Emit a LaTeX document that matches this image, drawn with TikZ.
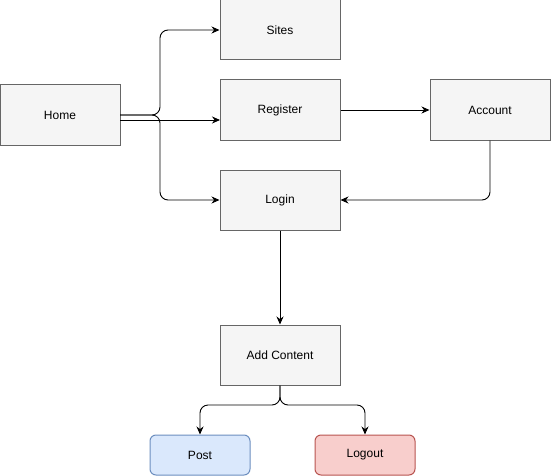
\documentclass[tikz,border=0pt]{standalone}
\usepackage{fontspec}
\setmainfont{Liberation Sans}
\usetikzlibrary{arrows.meta}
\definecolor{boxfill}{HTML}{F5F5F5}
\definecolor{boxline}{HTML}{666666}
\definecolor{bluefill}{HTML}{DAE8FC}
\definecolor{blueline}{HTML}{6C8EBF}
\definecolor{redfill}{HTML}{F8CECC}
\definecolor{redline}{HTML}{B85450}
\begin{document}
\begin{tikzpicture}[x=1pt,y=-1pt,
  box/.style={draw=boxline,fill=boxfill,line width=1pt,minimum width=120pt,minimum height=60pt,inner sep=0pt,font=\fontsize{12}{14}\selectfont},
  sbox/.style={line width=1pt,minimum width=100pt,minimum height=40pt,inner sep=0pt,rounded corners=6pt,font=\fontsize{12}{14}\selectfont},
  conn/.style={line width=0.9pt,rounded corners=8pt,-{Stealth[length=8pt,width=7pt]}}]
\useasboundingbox (0,0) rectangle (551,476);
\node[box] (home) at (60,115) {Home};
\node[box] (sites) at (280,30) {Sites};
\node[box] (reg) at (280,110) {Register};
\node[box] (acc) at (490,110) {Account};
\node[box] (login) at (280,200) {Login};
\node[box] (add) at (280,355) {Add Content};
\node[sbox,draw=blueline,fill=bluefill] (post) at (200,455) {Post};
\node[sbox,draw=redline,fill=redfill] (logout) at (365,455) {Logout};
\coordinate (hA) at (120,115);
\coordinate (hB) at (120,120);
\coordinate (regIn) at (220,120);
\draw[conn] (hA) -- (160,115) -- (160,30) -- (sites.west);
\draw[conn] (hA) -- (160,115) -- (160,200) -- (login.west);
\draw[conn] (hB) -- (regIn);
\draw[conn] (reg.east) -- (acc.west);
\draw[conn] (acc.south) -- (490,200) -- (login.east);
\draw[conn] (login.south) -- (add.north);
\draw[conn] (add.south) -- (280,405) -- (200,405) -- (post.north);
\draw[conn] (add.south) -- (280,405) -- (365,405) -- (logout.north);
\end{tikzpicture}
\end{document}
